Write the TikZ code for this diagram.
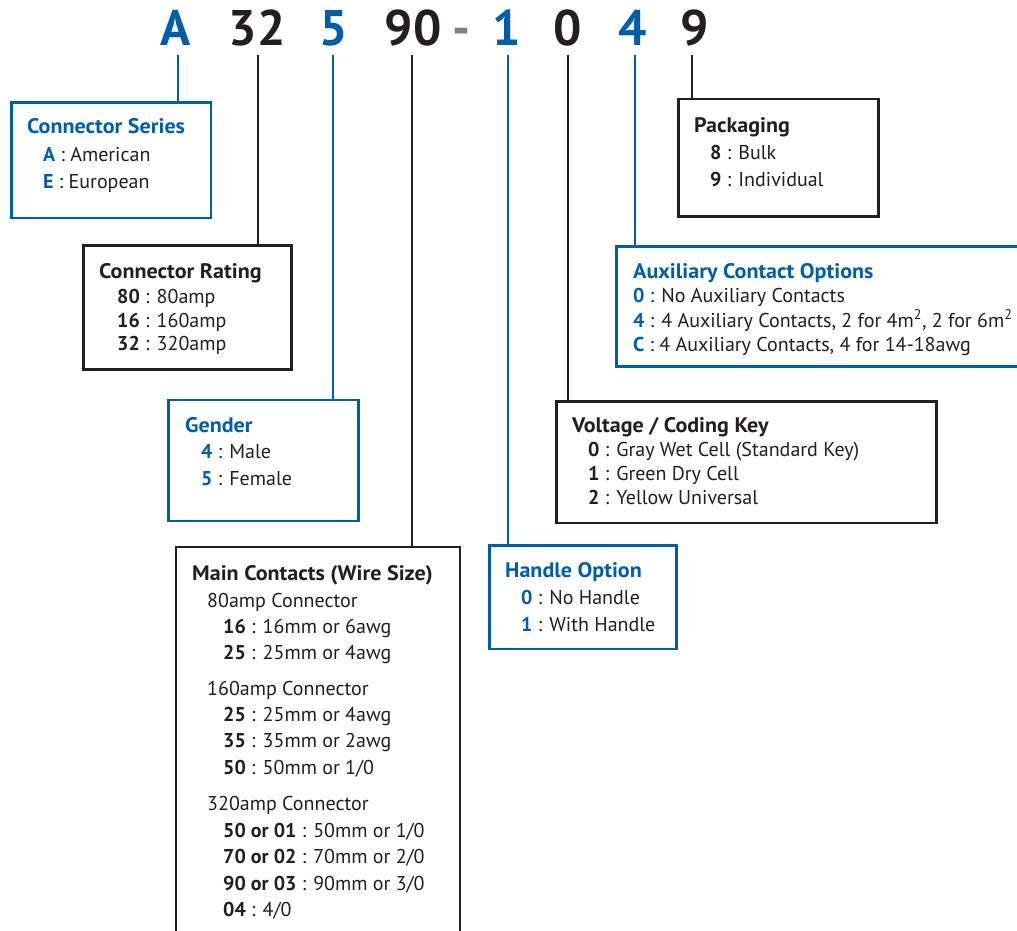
\documentclass[tikz,border=0pt]{standalone}
\usepackage{fontspec}
\setmainfont{PT Sans}
\newfontfamily\ttlfont[FakeStretch=1.05]{PT Sans}
\definecolor{cblue}{RGB}{0,93,170}
\definecolor{cblack}{RGB}{35,31,32}
\definecolor{cgray}{RGB}{128,128,128}
\newcommand{\txtsize}{\fontsize{20pt}{24pt}\selectfont}
\newcommand{\ttlsize}{\ttlfont\fontsize{21pt}{24pt}\selectfont\bfseries}
\begin{document}
\begin{tikzpicture}[x=1pt,y=-1pt,
  codebox/.style={draw=#1, line width=2.5pt, fill=white, rectangle, anchor=north west, inner sep=0pt},
  digit/.style={text=#1, font=\fontsize{50pt}{60pt}\selectfont\bfseries, anchor=base, inner sep=0pt},
  lead/.style={draw=#1, line width=2pt},
  ttl/.style={text=#1, font=\ttlsize, anchor=base west, inner sep=0pt},
  itm/.style={text=cblack, font=\txtsize, anchor=base west, inner sep=0pt},
]
\useasboundingbox (0,0) rectangle (1017,931);
\fill[white] (0,0) rectangle (1017,931);

% header digits
\node[digit=cblue]  (dA)  at (176,46) {A};
\node[digit=cblack] (d32) at (257,46) {32};
\node[digit=cblue]  (d5)  at (334,46) {5};
\node[digit=cblack] (d90) at (413,46) {90};
\node[digit=cgray]  (dh)  at (461,46) {-};
\node[digit=cblue]  (d1)  at (507,46) {1};
\node[digit=cblack] (d0)  at (568,46) {0};
\node[digit=cblue]  (d4)  at (633,46) {4};
\node[digit=cblack] (d9)  at (695,46) {9};

\coordinate (tA)  at (178,55);
\coordinate (t32) at (258,55);
\coordinate (t5)  at (333,55);
\coordinate (t90) at (412,55);
\coordinate (t1)  at (508,55);
\coordinate (t0)  at (568,55);
\coordinate (t4)  at (635,55);
\coordinate (t9)  at (692,55);

% boxes
\node[codebox=cblue,  minimum width=199.5pt, minimum height=115pt] (bA)  at (10,101.5) {};
\node[codebox=cblack, minimum width=208pt,   minimum height=124pt] (b32) at (82,244) {};
\node[codebox=cblue,  minimum width=190pt,   minimum height=121pt] (b5)  at (167,398.5) {};
\node[codebox=cblack, minimum width=284pt,   minimum height=420pt] (b90) at (174.5,545.5) {};
\node[codebox=cblue,  minimum width=187pt,   minimum height=103.5pt] (b1) at (488,544) {};
\node[codebox=cblack, minimum width=380pt,   minimum height=121.5pt] (b0) at (555,400) {};
\node[codebox=cblue,  minimum width=420pt,   minimum height=120pt] (b4)  at (615,245) {};
\node[codebox=cblack, minimum width=200pt,   minimum height=117pt] (b9)  at (677,98) {};

% leads
\draw[lead=cblue]  (tA)  -- (tA |- bA.north);
\draw[lead=cblack] (t32) -- (t32 |- b32.north);
\draw[lead=cblue]  (t5)  -- (t5 |- b5.north);
\draw[lead=cblack] (t90) -- (t90 |- b90.north);
\draw[lead=cblue]  (t1)  -- (t1 |- b1.north);
\draw[lead=cblack] (t0)  -- (t0 |- b0.north);
\draw[lead=cblue]  (t4)  -- (t4 |- b4.north);
\draw[lead=cblack] (t9)  -- (t9 |- b9.north);

% Connector Series
\node[ttl=cblue] (sA0) at (27,134) {Connector Series};
\node[itm] (sA1) at (43,161) {\textcolor{cblue}{\textbf{A}} : American};
\node[itm] (sA2) at (43,188) {\textcolor{cblue}{\textbf{E}} : European};

% Connector Rating
\node[ttl=cblack] (s320) at (99,278) {Connector Rating};
\node[itm] (s321) at (117,303) {\textbf{80} : 80amp};
\node[itm] (s322) at (117,327) {\textbf{16} : 160amp};
\node[itm] (s323) at (117,350) {\textbf{32} : 320amp};

% Gender
\node[ttl=cblue] (s50) at (185,432) {Gender};
\node[itm] (s51) at (201,458) {\textcolor{cblue}{\textbf{4}} : Male};
\node[itm] (s52) at (201,485) {\textcolor{cblue}{\textbf{5}} : Female};

% Main contacts
\node[ttl=cblack] (s900) at (192,580) {Main Contacts (Wire Size)};
\node[itm] (s901) at (207,607) {80amp Connector};
\node[itm] (s902) at (223,633) {\textbf{16} : 16mm or 6awg};
\node[itm] (s903) at (223,659) {\textbf{25} : 25mm or 4awg};
\node[itm] (s904) at (207,695) {160amp Connector};
\node[itm] (s905) at (223,721) {\textbf{25} : 25mm or 4awg};
\node[itm] (s906) at (223,747) {\textbf{35} : 35mm or 2awg};
\node[itm] (s907) at (223,774) {\textbf{50} : 50mm or 1/0};
\node[itm] (s908) at (207,810) {320amp Connector};
\node[itm] (s909) at (223,837) {\textbf{50 or 01} : 50mm or 1/0};
\node[itm] (s910) at (223,863) {\textbf{70 or 02} : 70mm or 2/0};
\node[itm] (s911) at (223,890) {\textbf{90 or 03} : 90mm or 3/0};
\node[itm] (s912) at (223,916) {\textbf{04} : 4/0};

% Handle option
\node[ttl=cblue] (s10) at (505,577) {Handle Option};
\node[itm] (s11) at (521,604) {\textcolor{cblue}{\textbf{0}} : No Handle};
\node[itm] (s12) at (521,631) {\textcolor{cblue}{\textbf{1}} : With Handle};

% Voltage
\node[ttl=cblack] (s00) at (572,432) {Voltage / Coding Key};
\node[itm] (s01) at (588,456) {\textbf{0} : Gray Wet Cell (Standard Key)};
\node[itm] (s02) at (588,480) {\textbf{1} : Green Dry Cell};
\node[itm] (s03) at (588,504) {\textbf{2} : Yellow Universal};

% Auxiliary
\node[ttl=cblue] (s40) at (633,278) {Auxiliary Contact Options};
\node[itm] (s41) at (633,302) {\textcolor{cblue}{\textbf{0}} : No Auxiliary Contacts};
\node[itm] (s42) at (633,327) {\textcolor{cblue}{\textbf{4}} : 4 Auxiliary Contacts, 2 for 4m\textsuperscript{2}, 2 for 6m\textsuperscript{2}};
\node[itm] (s43) at (633,351) {\textcolor{cblue}{\textbf{C}} : 4 Auxiliary Contacts, 4 for 14-18awg};

% Packaging
\node[ttl=cblack] (s90) at (694,133) {Packaging};
\node[itm] (s91) at (710,159) {\textbf{8} : Bulk};
\node[itm] (s92) at (710,186) {\textbf{9} : Individual};
\end{tikzpicture}
\end{document}
